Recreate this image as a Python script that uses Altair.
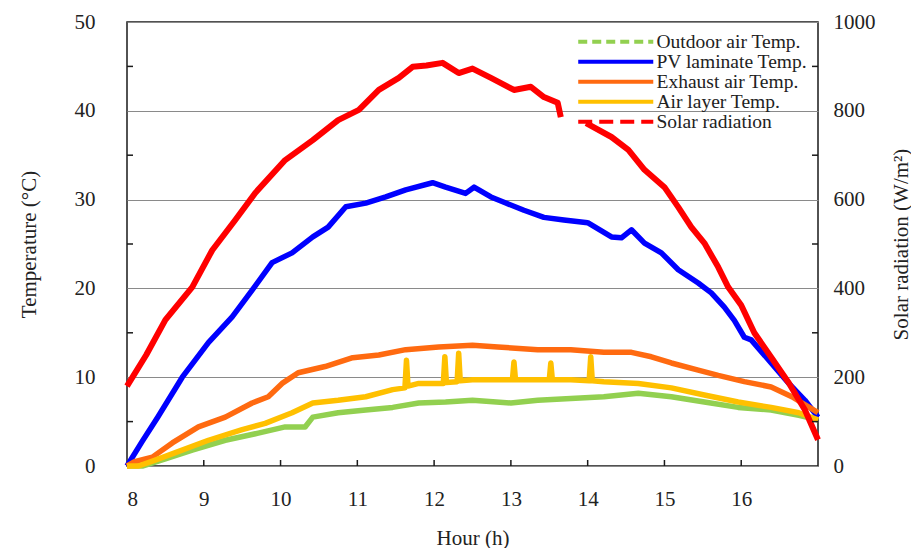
import altair as alt
import pandas as pd

W, H = 691, 444
FONT = "Liberation Serif"

SERIES = ["Outdoor air Temp.", "PV laminate Temp.", "Exhaust air Temp.",
          "Air layer Temp.", "Solar radiation"]
COLORS = ["#92D050", "#0000FF", "#FF6A10", "#FFC000", "#FF0000"]
DASHES = [[9, 5], [1, 0], [1, 0], [1, 0], [14, 7]]

X_LABELS = [8, 9, 10, 11, 12, 13, 14, 15, 16]
X_TICKS = [9, 10, 11, 12, 13, 14, 15, 16]
T_LABELS = [0, 10, 20, 30, 40, 50]
T_MINOR = [5, 15, 25, 35, 45]
R_LABELS = [0, 200, 400, 600, 800, 1000]
R_MINOR = [100, 300, 500, 700, 900]

outdoor_h = [8.0, 8.2, 8.5, 8.85, 9.28, 9.71, 10.06, 10.32, 10.42, 10.75, 11.11,
             11.46, 11.8, 12.15, 12.5, 13.0, 13.35, 13.78, 14.21, 14.66, 15.09,
             15.52, 15.96, 16.39, 16.75, 17.0]
outdoor_t = [0.0, 0.0, 0.8, 1.8, 2.9, 3.7, 4.4, 4.4, 5.5, 6.0, 6.3,
             6.6, 7.1, 7.2, 7.4, 7.1, 7.4, 7.6, 7.8, 8.2, 7.8,
             7.2, 6.6, 6.3, 5.7, 5.2]

pv_h = [8.0, 8.2, 8.4, 8.72, 9.06, 9.37, 9.63, 9.89, 10.15, 10.42, 10.62, 10.85,
        11.11, 11.37, 11.63, 11.98, 12.15, 12.41, 12.52, 12.74, 12.91, 13.17,
        13.43, 13.69, 14.0, 14.31, 14.44, 14.57, 14.74, 14.96, 15.18, 15.44,
        15.61, 15.78, 15.91, 16.04, 16.13, 16.39, 16.62, 16.83, 17.0]
pv_t = [0.0, 2.8, 5.5, 10.0, 13.9, 16.8, 19.8, 22.9, 24.0, 25.8, 26.9, 29.2,
        29.6, 30.3, 31.1, 31.9, 31.4, 30.7, 31.4, 30.3, 29.7, 28.8,
        28.0, 27.7, 27.4, 25.8, 25.7, 26.6, 25.1, 24.0, 22.1, 20.6,
        19.5, 17.9, 16.4, 14.5, 14.2, 11.6, 9.3, 7.4, 5.5]

exhaust_h = [8.0, 8.1, 8.33, 8.59, 8.93, 9.28, 9.63, 9.84, 10.02, 10.23, 10.58,
             10.94, 11.28, 11.63, 12.06, 12.5, 12.83, 13.35, 13.78, 14.21, 14.57,
             14.83, 15.09, 15.44, 15.7, 16.04, 16.39, 16.66, 17.0]
exhaust_t = [0.0, 0.5, 1.0, 2.6, 4.4, 5.5, 7.1, 7.8, 9.3, 10.5, 11.2,
             12.2, 12.5, 13.1, 13.4, 13.6, 13.4, 13.1, 13.1, 12.8, 12.8,
             12.3, 11.6, 10.8, 10.2, 9.5, 8.9, 7.8, 6.0]

airlayer_h = [8.0, 8.15, 8.35, 8.63, 9.06, 9.5, 9.8, 10.15, 10.42, 10.75, 11.11,
              11.46, 11.62, 11.64, 11.66, 11.8, 12.12, 12.14, 12.16, 12.3, 12.32,
              12.34, 12.5, 12.91, 13.02, 13.04, 13.06, 13.35, 13.5, 13.52, 13.54,
              13.78, 14.02, 14.04, 14.06, 14.21, 14.66, 15.09, 15.52, 15.96,
              16.39, 16.75, 17.0]
airlayer_t = [0.0, 0.0, 0.6, 1.5, 2.9, 4.1, 4.8, 6.0, 7.1, 7.4, 7.8,
              8.6, 8.8, 11.9, 9.0, 9.3, 9.3, 12.3, 9.4, 9.5, 12.7,
              9.6, 9.7, 9.7, 9.7, 11.7, 9.7, 9.7, 9.7, 11.6, 9.7,
              9.7, 9.6, 12.3, 9.6, 9.5, 9.3, 8.8, 8.0, 7.2,
              6.6, 6.0, 5.2]

solar_h = [8.0, 8.25, 8.5, 8.85, 9.11, 9.41, 9.67, 10.06, 10.42, 10.75, 11.02,
           11.28, 11.54, 11.72, 11.9, 12.11, 12.32, 12.5, 12.74, 13.04, 13.26,
           13.43, 13.61, 13.65,
           13.98, 14.31, 14.53, 14.74, 15.0, 15.18, 15.35, 15.52, 15.7, 15.83,
           16.0, 16.17, 16.39, 16.62, 16.83, 17.0]
solar_r = [180, 250, 329, 403, 486, 554, 615, 689, 734, 779, 802,
           847, 874, 899, 902, 908, 885, 895, 874, 847, 854,
           831, 818, 786,
           772, 741, 712, 667, 628, 583, 538, 502, 448, 403,
           362, 300, 245, 187, 126, 59]
solar_seg = [1] * 24 + [2] * 16

rows = []
for name, hs, vs in [(SERIES[0], outdoor_h, outdoor_t), (SERIES[1], pv_h, pv_t),
                     (SERIES[2], exhaust_h, exhaust_t), (SERIES[3], airlayer_h, airlayer_t)]:
    for h, v in zip(hs, vs):
        rows.append({"hour": h, "value": v, "series": name})
temp_df = pd.DataFrame(rows)
solar_df = pd.DataFrame({"hour": solar_h, "value": solar_r, "seg": solar_seg,
                         "series": SERIES[4]})

x_scale = alt.Scale(domain=[8, 17], nice=False, zero=False)
t_scale = alt.Scale(domain=[0, 50], nice=False)
r_scale = alt.Scale(domain=[0, 1000], nice=False)
color_scale = alt.Scale(domain=SERIES, range=COLORS)
dash_scale = alt.Scale(domain=SERIES, range=DASHES)

x_axis = alt.Axis(values=X_LABELS, title="Hour (h)", labelPadding=22, titlePadding=18,
                  grid=False, labelAngle=0)
t_axis = alt.Axis(values=T_LABELS, title="Temperature (°C)", grid=True,
                  gridColor="#8a8a8a", gridWidth=1.2, labelPadding=32, titlePadding=35)
r_axis = alt.Axis(values=R_LABELS, title="Solar radiation (W/m²)", orient="right",
                  format="d", grid=False, labelPadding=15, titlePadding=36,
                  titleAngle=270)


def xe():
    return alt.X("hour:Q", scale=x_scale, axis=x_axis)


def ye_t():
    return alt.Y("value:Q", scale=t_scale, axis=t_axis)


def ye_r():
    return alt.Y("value:Q", scale=r_scale, axis=r_axis)


legend = alt.Legend(title=None, orient="none", legendX=479, legendY=10,
                    symbolType="M-8,0H8", symbolSize=88, symbolStrokeWidth=4,
                    labelOffset=31, rowPadding=-7, labelFont=FONT, labelFontSize=19.5,
                    labelColor="#222222", labelLimit=300)

temp_under = alt.Chart(temp_df).mark_line(strokeWidth=2).encode(
    x=xe(), y=ye_t(),
    color=alt.Color("series:N", scale=color_scale, legend=legend),
    strokeDash=alt.StrokeDash("series:N", scale=dash_scale, legend=legend),
)
temp_main = alt.Chart(temp_df).mark_line(strokeWidth=5.5, strokeJoin="round").encode(
    x=xe(), y=ye_t(),
    color=alt.Color("series:N", scale=color_scale, legend=None),
)
x_ticks = alt.Chart(pd.DataFrame({"hour": X_TICKS})).mark_rule(
    color="#1a1a1a", strokeWidth=1.5).encode(
    x=xe(), y=alt.value(H - 6), y2=alt.value(H))
t_ticks = alt.Chart(pd.DataFrame({"value": T_MINOR})).mark_rule(
    color="#1a1a1a", strokeWidth=1.5).encode(
    y=ye_t(), x=alt.value(0), x2=alt.value(6))

left = alt.layer(temp_under, temp_main, x_ticks, t_ticks)

solar_under = alt.Chart(solar_df).mark_line(strokeWidth=2).encode(
    x=xe(), y=ye_r(),
    color=alt.Color("series:N", scale=color_scale, legend=legend),
    strokeDash=alt.StrokeDash("series:N", scale=dash_scale, legend=legend),
    detail="seg:N",
)
solar_main = alt.Chart(solar_df).mark_line(strokeWidth=6, color="#FF0000",
                                           strokeJoin="round").encode(
    x=xe(), y=ye_r(),
    detail="seg:N",
)
r_ticks = alt.Chart(pd.DataFrame({"value": R_MINOR})).mark_rule(
    color="#1a1a1a", strokeWidth=1.5).encode(
    y=ye_r(), x=alt.value(W - 6), x2=alt.value(W))

right = alt.layer(solar_under, solar_main, r_ticks)

chart = alt.layer(left, right).resolve_scale(y="independent").properties(
    width=W, height=H,
    padding={"left": 10, "top": 3, "right": 0, "bottom": 0},
    background="white",
).configure_view(
    stroke="#1a1a1a", strokeWidth=1.5
).configure_axis(
    domain=False, ticks=False,
    labelFont=FONT, labelFontSize=21, labelColor="#222222",
    titleFont=FONT, titleFontSize=21, titleFontWeight="normal", titleColor="#222222",
)

chart.save("out.html", embed_options={"renderer": "svg", "actions": False})
